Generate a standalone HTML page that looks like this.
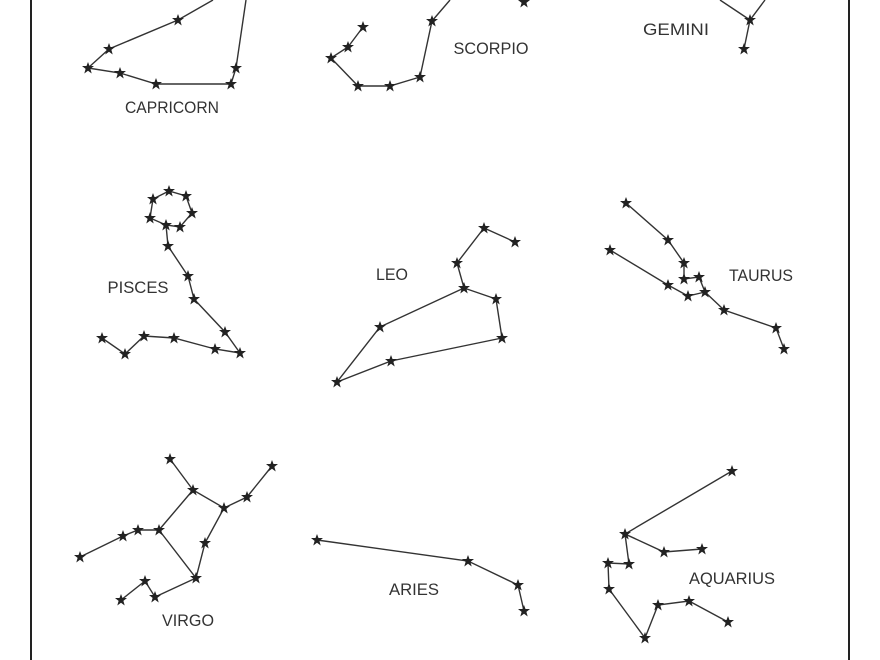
<!DOCTYPE html>
<html><head><meta charset="utf-8"><style>
html,body{margin:0;padding:0;background:#fff}
svg{display:block}
text{font-family:"Liberation Sans",sans-serif;font-size:17px;fill:#333;text-anchor:middle}
</style></head><body>
<svg width="880" height="660" viewBox="0 0 880 660" xmlns="http://www.w3.org/2000/svg">
<defs>
<polygon id="s" points="0,-6 1.5,-2 6,-2 2.4,0.9 3.7,5.5 0,2.8 -3.7,5.5 -2.4,0.9 -6,-2 -1.5,-2" fill="#222"/>
</defs>
<line x1="31" y1="0" x2="31" y2="660" stroke="#222" stroke-width="2"/>
<line x1="849" y1="0" x2="849" y2="660" stroke="#222" stroke-width="2"/>
<g fill="none" stroke="#333" stroke-width="1.4">
<polyline points="213,0 178,20 109,49 88,68 120,73 156,84 231,84 236,68 246,0"/>
<polyline points="363,27 348,47 331,58 358,86 390,86 420,77 432,21 450,0"/>
<polyline points="720,0 750,20 765,0"/><polyline points="750,20 744,49"/>
<polygon points="153,199 169,191 186,196 192,213 180,227 166,225 150,218"/>
<polyline points="166,225 168,246 188,276 194,299 225,332 240,353"/>
<polyline points="102,338 125,354 144,336 174,338 215,349 240,353"/>
<polyline points="515,242 484,228 457,263 464,288 496,299 502,338 391,361 337,382 380,327 464,288"/>
<polyline points="626,203 668,240 684,263 684,279 699,277 705,292 724,310 776,328 784,349"/>
<polyline points="610,250 668,285 688,296 705,292"/>
<polyline points="170,459 193,490 224,508 247,497 272,466"/>
<polyline points="193,490 159,530 138,530 123,536 80,557"/>
<polyline points="159,530 196,578 205,543 224,508"/>
<polyline points="196,578 155,597 145,581 121,600"/>
<polyline points="317,540 468,561 518,585 524,611"/>
<polyline points="732,471 625,534 664,552 702,549"/>
<polyline points="625,534 629,564 608,563 609,589 645,638 658,605 689,601 728,622"/>
</g>
<g>
<use href="#s" x="178" y="20"/><use href="#s" x="109" y="49"/><use href="#s" x="88" y="68"/><use href="#s" x="120" y="73"/><use href="#s" x="156" y="84"/><use href="#s" x="231" y="84"/><use href="#s" x="236" y="68"/>
<use href="#s" x="363" y="27"/><use href="#s" x="348" y="47"/><use href="#s" x="331" y="58"/><use href="#s" x="358" y="86"/><use href="#s" x="390" y="86"/><use href="#s" x="420" y="77"/><use href="#s" x="432" y="21"/><use href="#s" x="524" y="2"/>
<use href="#s" x="750" y="20"/><use href="#s" x="744" y="49"/>
<use href="#s" x="153" y="199"/><use href="#s" x="169" y="191"/><use href="#s" x="186" y="196"/><use href="#s" x="192" y="213"/><use href="#s" x="180" y="227"/><use href="#s" x="166" y="225"/><use href="#s" x="150" y="218"/>
<use href="#s" x="168" y="246"/><use href="#s" x="188" y="276"/><use href="#s" x="194" y="299"/><use href="#s" x="225" y="332"/><use href="#s" x="240" y="353"/>
<use href="#s" x="102" y="338"/><use href="#s" x="125" y="354"/><use href="#s" x="144" y="336"/><use href="#s" x="174" y="338"/><use href="#s" x="215" y="349"/>
<use href="#s" x="515" y="242"/><use href="#s" x="484" y="228"/><use href="#s" x="457" y="263"/><use href="#s" x="464" y="288"/><use href="#s" x="496" y="299"/><use href="#s" x="502" y="338"/><use href="#s" x="391" y="361"/><use href="#s" x="337" y="382"/><use href="#s" x="380" y="327"/>
<use href="#s" x="626" y="203"/><use href="#s" x="668" y="240"/><use href="#s" x="684" y="263"/><use href="#s" x="684" y="279"/><use href="#s" x="699" y="277"/><use href="#s" x="705" y="292"/><use href="#s" x="724" y="310"/><use href="#s" x="776" y="328"/><use href="#s" x="784" y="349"/><use href="#s" x="610" y="250"/><use href="#s" x="668" y="285"/><use href="#s" x="688" y="296"/>
<use href="#s" x="170" y="459"/><use href="#s" x="193" y="490"/><use href="#s" x="224" y="508"/><use href="#s" x="247" y="497"/><use href="#s" x="272" y="466"/><use href="#s" x="159" y="530"/><use href="#s" x="138" y="530"/><use href="#s" x="123" y="536"/><use href="#s" x="80" y="557"/><use href="#s" x="196" y="578"/><use href="#s" x="205" y="543"/><use href="#s" x="155" y="597"/><use href="#s" x="145" y="581"/><use href="#s" x="121" y="600"/>
<use href="#s" x="317" y="540"/><use href="#s" x="468" y="561"/><use href="#s" x="518" y="585"/><use href="#s" x="524" y="611"/>
<use href="#s" x="732" y="471"/><use href="#s" x="625" y="534"/><use href="#s" x="664" y="552"/><use href="#s" x="702" y="549"/><use href="#s" x="629" y="564"/><use href="#s" x="608" y="563"/><use href="#s" x="609" y="589"/><use href="#s" x="645" y="638"/><use href="#s" x="658" y="605"/><use href="#s" x="689" y="601"/><use href="#s" x="728" y="622"/>
</g>
<text x="172" y="113" textLength="94" lengthAdjust="spacingAndGlyphs">CAPRICORN</text>
<text x="491" y="54" textLength="75" lengthAdjust="spacingAndGlyphs">SCORPIO</text>
<text x="676" y="35" textLength="66" lengthAdjust="spacingAndGlyphs">GEMINI</text>
<text x="138" y="293" textLength="61" lengthAdjust="spacingAndGlyphs">PISCES</text>
<text x="392" y="280" textLength="32" lengthAdjust="spacingAndGlyphs">LEO</text>
<text x="761" y="281" textLength="64" lengthAdjust="spacingAndGlyphs">TAURUS</text>
<text x="188" y="626" textLength="52" lengthAdjust="spacingAndGlyphs">VIRGO</text>
<text x="414" y="595" textLength="50" lengthAdjust="spacingAndGlyphs">ARIES</text>
<text x="732" y="584" textLength="86" lengthAdjust="spacingAndGlyphs">AQUARIUS</text>
</svg>
</body></html>
